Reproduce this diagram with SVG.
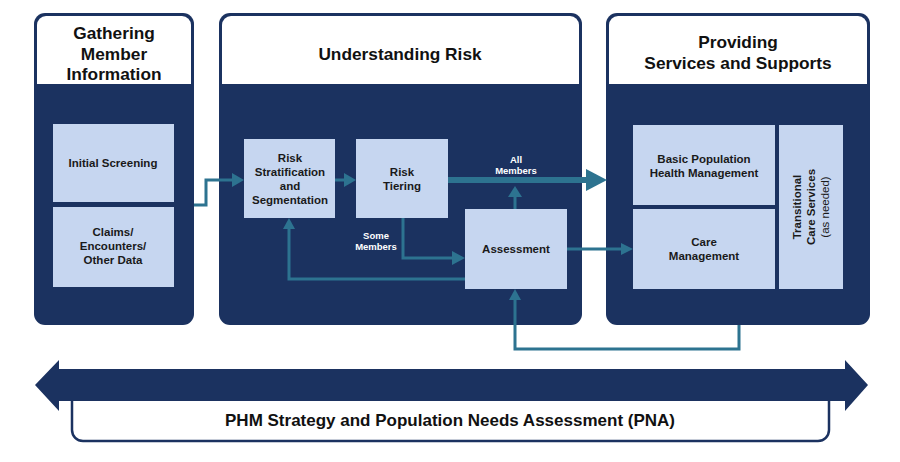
<svg xmlns="http://www.w3.org/2000/svg" width="900" height="462" viewBox="0 0 900 462">
<defs>
<style>
.panel{fill:#1b3260}
.hdr{fill:#ffffff}
.box{fill:#c6d6f0}
.ttl{font-family:"Liberation Sans",Arial,sans-serif;font-weight:bold;font-size:17.3px;fill:#111;text-anchor:middle}
.bt{font-family:"Liberation Sans",Arial,sans-serif;font-weight:bold;font-size:11.5px;fill:#1a1a1a;text-anchor:middle}
.lbl{font-family:"Liberation Sans",Arial,sans-serif;font-weight:bold;font-size:9.5px;fill:#ffffff;text-anchor:middle}
.c{fill:none;stroke:#2d7390;stroke-width:3}
.ah{fill:#2d7390}
</style>
</defs>
<rect width="900" height="462" fill="#ffffff"/>

<g id="panel-gathering">
<rect class="panel" x="34" y="13" width="160" height="312" rx="11"/>
<path class="hdr" d="M37,84 V25 A9,9 0 0 1 46,16 H182 A9,9 0 0 1 191,25 V84 Z"/>
<text class="ttl" x="114" y="39">Gathering</text>
<text class="ttl" x="114" y="60">Member</text>
<text class="ttl" x="114" y="80">Information</text>
</g>
<g id="node-initial-screening">
<rect class="box" x="53" y="124" width="121" height="78"/>
<text class="bt" x="113" y="167">Initial Screening</text>
</g>
<g id="node-claims">
<rect class="box" x="53" y="207" width="121" height="80"/>
<text class="bt" x="113" y="236">Claims/</text>
<text class="bt" x="113" y="250">Encounters/</text>
<text class="bt" x="113" y="264">Other Data</text>
</g>

<g id="panel-understanding">
<rect class="panel" x="219" y="13" width="363" height="312" rx="11"/>
<path class="hdr" d="M222,84 V25 A9,9 0 0 1 231,16 H570 A9,9 0 0 1 579,25 V84 Z"/>
<text class="ttl" x="400" y="60">Understanding Risk</text>
</g>
<g id="node-risk-strat">
<rect class="box" x="244" y="139" width="91" height="79"/>
<text class="bt" x="290" y="162">Risk</text>
<text class="bt" x="290" y="176">Stratification</text>
<text class="bt" x="290" y="190">and</text>
<text class="bt" x="290" y="204">Segmentation</text>
</g>
<g id="node-risk-tiering">
<rect class="box" x="356" y="139" width="92" height="79"/>
<text class="bt" x="402" y="176">Risk</text>
<text class="bt" x="402" y="190">Tiering</text>
</g>
<g id="node-assessment">
<rect class="box" x="465" y="209" width="102" height="80"/>
<text class="bt" x="516" y="253">Assessment</text>
</g>

<g id="panel-providing">
<rect class="panel" x="606" y="13" width="264" height="312" rx="11"/>
<path class="hdr" d="M609,84 V25 A9,9 0 0 1 618,16 H858 A9,9 0 0 1 867,25 V84 Z"/>
<text class="ttl" x="738" y="48">Providing</text>
<text class="ttl" x="738" y="69">Services and Supports</text>
</g>
<g id="node-basic-phm">
<rect class="box" x="633" y="125" width="142" height="80"/>
<text class="bt" x="704" y="163">Basic Population</text>
<text class="bt" x="704" y="177">Health Management</text>
</g>
<g id="node-care-mgmt">
<rect class="box" x="633" y="209" width="142" height="80"/>
<text class="bt" x="704" y="246">Care</text>
<text class="bt" x="704" y="260">Management</text>
</g>
<g id="node-transitional">
<rect class="box" x="779" y="125" width="64" height="164"/>
<g transform="translate(811,207) rotate(-90)">
<text class="bt" x="0" y="-10">Transitional</text>
<text class="bt" x="0" y="4">Care Services</text>
<text class="bt" x="0" y="18" style="font-weight:normal">(as needed)</text>
</g>
</g>

<g id="connectors">
<polyline class="c" points="194,205 206,205 206,180 234,180"/>
<polygon class="ah" points="244,180 232,173 232,187"/>
<line class="c" x1="335" y1="180" x2="347" y2="180"/>
<polygon class="ah" points="356,180 344,173 344,187"/>
<line class="c" x1="448" y1="180" x2="590" y2="180" style="stroke-width:6"/>
<polygon class="ah" points="607,180 586,169 586,191"/>
<line class="c" x1="515" y1="209" x2="515" y2="196"/>
<polygon class="ah" points="515,186 508,197 522,197"/>
<polyline class="c" points="403,218 403,258 453,258"/>
<polygon class="ah" points="465,258 452,251 452,265"/>
<polyline class="c" points="465,279 289,279 289,229"/>
<polygon class="ah" points="289,218 283,229 295,229"/>
<line class="c" x1="567" y1="249" x2="622" y2="249"/>
<polygon class="ah" points="633,249 621,243 621,255"/>
<polyline class="c" points="739,325 739,349 515,349 515,300"/>
<polygon class="ah" points="515,289 509,300 521,300"/>
<text class="lbl" x="516" y="163">All</text>
<text class="lbl" x="516" y="174">Members</text>
<text class="lbl" x="376" y="239">Some</text>
<text class="lbl" x="376" y="250">Members</text>
</g>

<g id="pna-strategy">
<rect x="72" y="390" width="757" height="51" rx="11" fill="#ffffff" stroke="#1b3260" stroke-width="2.5"/>
<polygon fill="#1b3260" points="35,385 59,360 59,369 845,369 845,360 868,385 845,411 845,401 59,401 59,411"/>
<text class="ttl" x="450" y="426" style="font-size:17px">PHM Strategy and Population Needs Assessment (PNA)</text>
</g>
</svg>
